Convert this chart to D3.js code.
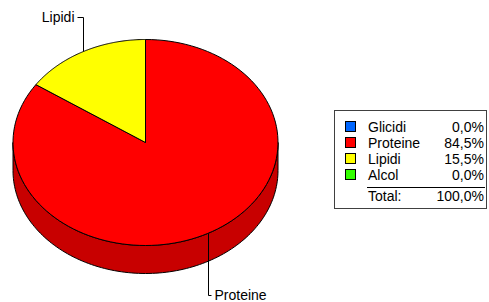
<!DOCTYPE html>
<html><head><meta charset="utf-8">
<script src="https://cdn.jsdelivr.net/npm/d3@7"></script>
<style>
html,body{margin:0;padding:0;background:#fff;}
svg{display:block;font-family:"Liberation Sans",Arial,sans-serif;}
</style></head>
<body>
<svg id="c" width="489" height="302"></svg>
<script>
const categories = ["Glicidi", "Proteine", "Lipidi", "Alcol"];
const values = [0.0, 84.5, 15.5, 0.0];
const colors = ["#0066ff", "#ff0000", "#ffff00", "#33ff00"];
const sideColors = ["#0050c8", "#c80000", "#c8c800", "#28c800"];
const percentLabels = ["0,0%", "84,5%", "15,5%", "0,0%"];
const totalLabel = "100,0%";

const svg = d3.select("#c");
const cx = 145.5, cy = 142.5, rx = 132.5, ry = 103, depth = 28;

const pie = d3.pie().sort(null).value(d => d)(values);
const pt = (a, dy = 0) => [cx + rx * Math.sin(a), cy - ry * Math.cos(a) + dy];
const arcPts = (a0, a1, dy = 0, n = 120) => {
  const s = d3.scaleLinear().domain([0, n]).range([a0, a1]);
  return d3.range(n + 1).map(i => pt(s(i), dy));
};
const line = d3.line();

// side walls (front half: angles between PI/2 and 3PI/2)
pie.forEach((p, i) => {
  const a0 = Math.max(p.startAngle, Math.PI / 2);
  const a1 = Math.min(p.endAngle, 3 * Math.PI / 2);
  if (a1 <= a0) return;
  const top = arcPts(a0, a1);
  const bot = arcPts(a1, a0, depth);
  svg.append("path").attr("d", line(top.concat(bot)) + "Z")
    .attr("fill", sideColors[i]).attr("stroke", "#000").attr("stroke-width", 1).attr("stroke-linejoin", "round");
});

// top slices
pie.forEach((p, i) => {
  if (p.endAngle - p.startAngle <= 0) return;
  const pts = [[cx, cy]].concat(arcPts(p.startAngle, p.endAngle));
  svg.append("path").attr("d", line(pts) + "Z")
    .attr("fill", colors[i]).attr("stroke", "#000").attr("stroke-width", 1).attr("stroke-linejoin", "round");
});

// leader labels
pie.forEach((p, i) => {
  if (p.endAngle - p.startAngle <= 0) return;
  const m = (p.startAngle + p.endAngle) / 2;
  const [x, y] = pt(m);
  const up = y < cy;
  const right = x >= cx;
  const yEnd = up ? 17.5 : 295.5;
  const xs = Math.round(x) + 0.5;
  const xt = right ? xs + 3 : xs - 6;
  svg.append("path").attr("d", line([[xs, y], [xs, yEnd], [xt, yEnd]]))
    .attr("fill", "none").attr("stroke", "#000").attr("stroke-width", 1);
  svg.append("text").attr("x", right ? xt + 3 : xt - 3).attr("y", up ? 22 : 300)
    .attr("text-anchor", right ? "start" : "end").attr("font-size", 14).attr("fill", "#000")
    .text(categories[i]);
});

// legend
const lg = svg.append("g");
lg.append("rect").attr("x", 334.5).attr("y", 110.5).attr("width", 152).attr("height", 98)
  .attr("fill", "#fff").attr("stroke", "#404040").attr("stroke-width", 1);
const rowY = d3.scalePoint().domain(categories).range([127, 175]);
categories.forEach((c, i) => {
  const yc = rowY(c);
  lg.append("rect").attr("x", 345.5).attr("y", yc - 5.5).attr("width", 10).attr("height", 10)
    .attr("fill", colors[i]).attr("stroke", "#000").attr("stroke-width", 1);
  lg.append("text").attr("x", 368).attr("y", yc + 5).attr("font-size", 14).text(c);
  lg.append("text").attr("x", 484).attr("y", yc + 5).attr("font-size", 14).attr("text-anchor", "end").text(percentLabels[i]);
});
lg.append("line").attr("x1", 367).attr("x2", 485).attr("y1", 187.5).attr("y2", 187.5).attr("stroke", "#000");
lg.append("text").attr("x", 368).attr("y", 201).attr("font-size", 14).text("Total:");
lg.append("text").attr("x", 484).attr("y", 201).attr("font-size", 14).attr("text-anchor", "end").text(totalLabel);
</script>
</body></html>
